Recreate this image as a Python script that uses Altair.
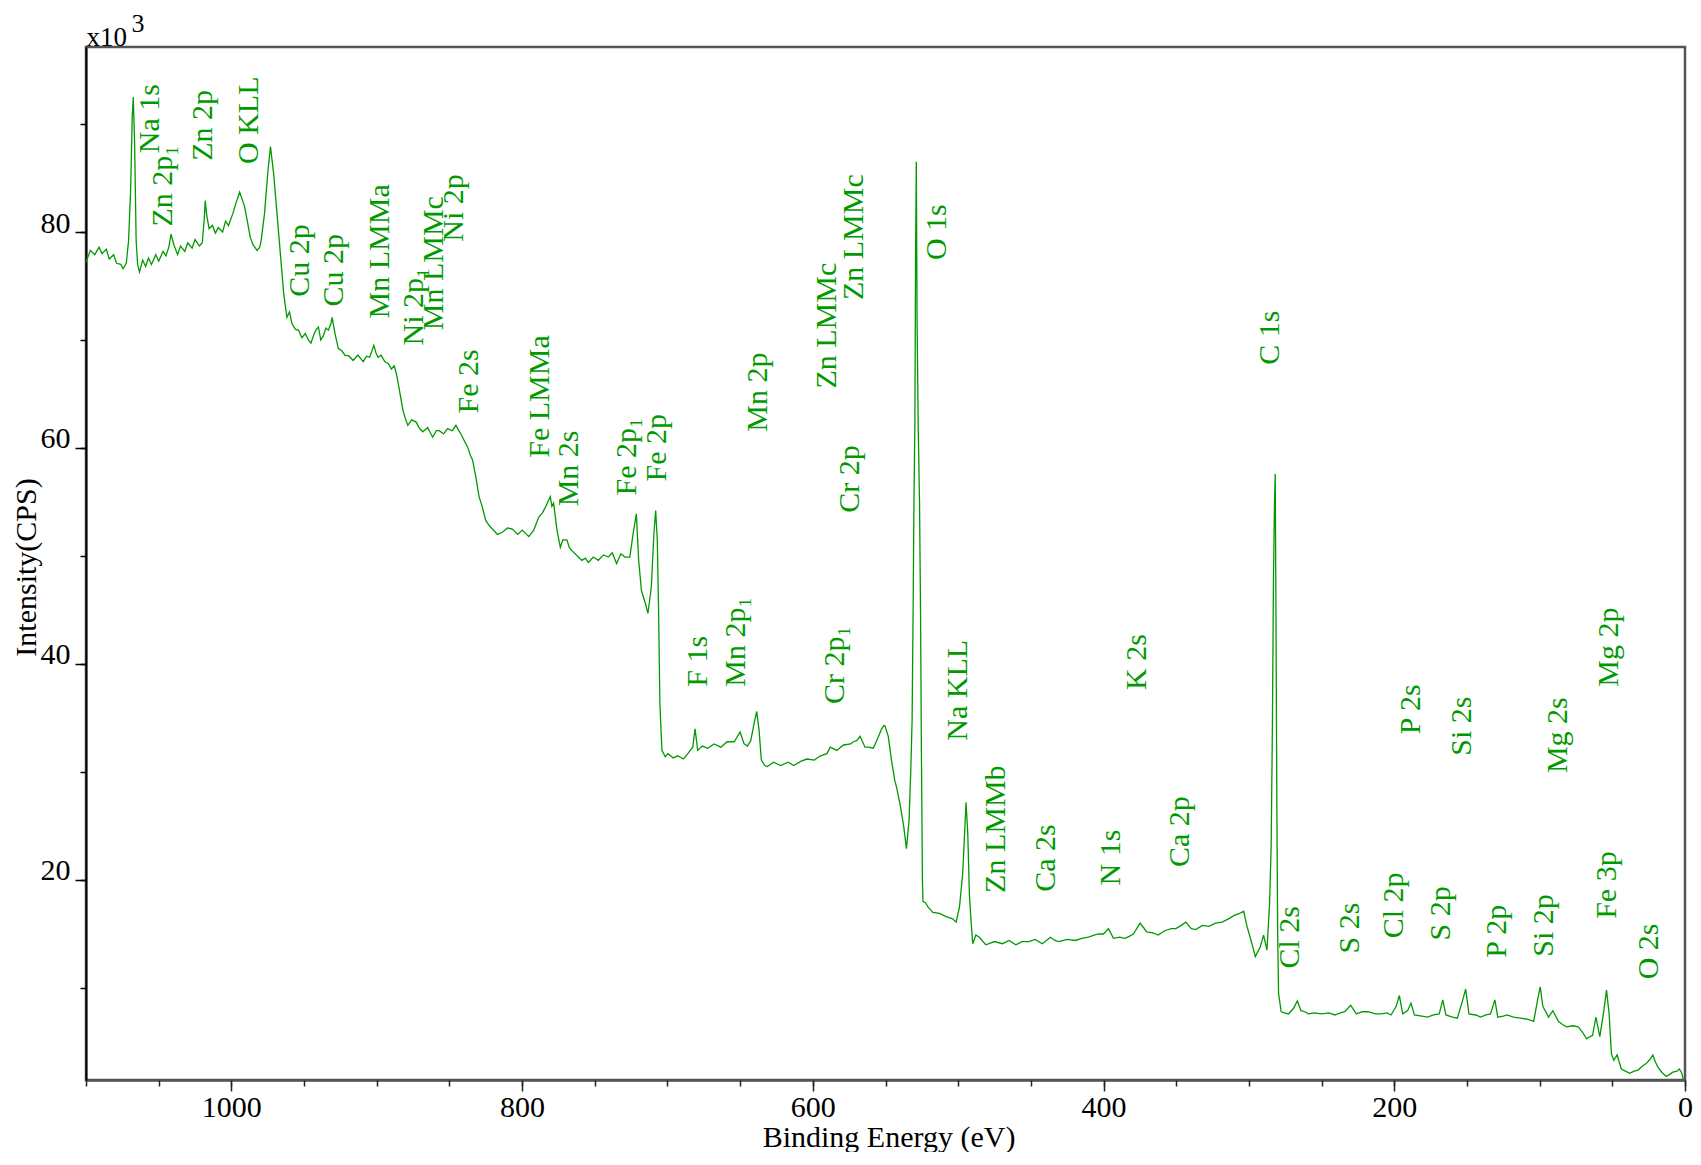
import altair as alt
import pandas as pd

GREEN = "#009a00"
FONT = "Liberation Serif"

# ---- spectrum (binding energy eV, intensity x10^3 CPS) ----
energy = [
    1100, 1097, 1094, 1091, 1089, 1086, 1084, 1081, 1079, 1076, 1074.5, 1072.3, 1070.7, 1069.3, 1068.2, 1067.5,
    1066.6, 1065.5, 1064.5, 1063.2, 1061, 1059, 1057, 1055, 1052, 1050, 1047, 1045, 1043, 1041.5, 1039.5, 1037,
    1035, 1032, 1030, 1027, 1025, 1022, 1020, 1018.5, 1018, 1017, 1015.3, 1013, 1011, 1009, 1006, 1004, 1002,
    999, 997, 994.3, 992.5, 991, 989, 987, 985, 982.3, 980.5, 979.5, 977.2, 975, 973.1, 970.9, 968.6, 966.3,
    964, 961.8, 960, 958.3, 956, 953.8, 951.5, 949.2, 947, 945.3, 943, 941.5, 940.1, 938.5, 936.7, 935, 933.3,
    931.5, 930.7, 928.7, 926.4, 924, 921.9, 919, 916.2, 913, 909.3, 907, 904.8, 902, 900.5, 899.1, 897, 894.5,
    892, 889.9, 888, 886.5, 884.3, 882, 880, 878.6, 876, 872.9, 870.5, 868.3, 865, 861.5, 859, 857, 854, 851.2,
    848, 845.5, 843.5, 842.1, 839.5, 837.5, 835.5, 834.1, 831.8, 829.6, 827.3, 825, 822.5, 820.4, 817, 813.6,
    810, 806.7, 803, 799.9, 797, 795.4, 792, 788.5, 786, 784, 782, 780.6, 779.5, 778.3, 776, 773.7, 772, 769.2,
    767.5, 765.7, 762, 758.9, 756.5, 754.4, 751, 747.6, 744, 740.7, 738, 735, 732, 729.3, 725.9, 723.6, 721.4,
    719.8, 717.9, 715.2, 713.4, 711.1, 709.3, 708.1, 707, 706.1, 705.2, 703.8, 701.5, 699.7, 696, 692.9, 689,
    686, 682.6, 681, 679.2, 676, 672.3, 668, 663.2, 659, 654.1, 650, 647.3, 645, 642.7, 640.4, 638.6, 637,
    635.4, 633, 631.3, 627, 622.2, 617, 613.1, 608, 604, 599, 594.8, 590.3, 588, 583.5, 578.9, 574, 572.1,
    569.8, 567.5, 564.1, 561.8, 558.4, 556.1, 553.8, 552.7, 551.1, 550.4, 548.1, 545.9, 543.6, 542.4, 539.7,
    537.4, 535.6, 533.8, 532.6, 531.7, 531.0, 530.4, 529.8, 529.3, 528.8, 528.3, 527.5, 526.6, 525.9, 525.3,
    524.6, 524.2, 522.5, 520.8, 517.4, 512.8, 508.3, 503.7, 501.4, 499.1, 496.9, 495.7, 494.6, 493.4, 492.3,
    491.2, 490, 487.8, 485.5, 481, 475, 469.5, 465, 460.4, 456, 451.3, 447, 442.2, 436.5, 433.5, 430.8, 425,
    419.4, 415, 410.3, 406.5, 403.4, 400, 396.6, 393.2, 389, 385.2, 382, 379.5, 374.9, 372.5, 370.4, 366,
    362.4, 358, 353.3, 350.3, 346.5, 343.5, 339.6, 336.6, 332, 327.5, 323, 318.4, 314, 310.4, 306.5, 303.6,
    301.3, 297.9, 295.6, 292.2, 289.9, 287.6, 285.8, 284.7, 283.8, 283.1, 282.4, 281.9, 281.4, 280.8, 280.2,
    279.6, 277.8, 275.5, 272.8, 269.4, 266.7, 264.2, 261.5, 259.1, 255, 250, 245, 240.9, 237, 234.1, 230,
    226.1, 222, 218.1, 213, 209, 205, 202.2, 198.7, 196.5, 194.2, 190.8, 188.5, 186.2, 181, 177.1, 173, 169.1,
    166.6, 164.5, 160, 156.6, 152.9, 150.9, 148.6, 144, 140.6, 137, 133.8, 130.8, 128.8, 125, 122.4, 118,
    113.2, 108, 104.1, 101.4, 99.6, 97.8, 93.9, 90.9, 87, 84, 81.4, 77, 73.4, 70.5, 67.7, 65.5, 63.6, 61.3,
    58.6, 55.8, 54, 52.2, 50.6, 49, 46.7, 43.8, 41, 38.1, 35, 32.3, 29, 26.7, 24, 22.1, 20.5, 18.7, 16, 13,
    10.5, 8.4, 5.5, 3.9, 2.5, 1.6, 0.6, 0,
]
intensity = [
    77.2, 78.3, 77.9, 78.6, 78.0, 78.4, 77.5, 77.9, 77.1, 77.0, 76.6, 77.1, 79.2, 83.9, 90.6, 92.5,
    88.5, 79.2, 77.0, 76.3, 77.4, 76.8, 77.6, 77.0, 77.9, 77.3, 78.2, 77.8, 78.6, 79.8, 78.8, 77.9,
    78.7, 78.2, 79.0, 78.5, 79.3, 78.7, 79.0, 81.5, 82.9, 81.6, 80.3, 80.6, 79.9, 80.4, 80.0, 81.0, 80.6,
    81.7, 82.6, 83.7, 83.0, 82.4, 81.0, 79.5, 78.8, 78.3, 78.6, 79.2, 81.7, 85.4, 87.9, 85.4, 81.7, 78.0,
    74.3, 72.1, 72.6, 71.5, 71.0, 70.9, 70.2, 70.6, 70.0, 69.7, 70.6, 71.0, 71.2, 70.0, 70.4, 71.1, 70.9,
    71.5, 72.1, 70.6, 69.2, 69.0, 68.6, 68.5, 68.1, 68.6, 68.0, 68.5, 68.4, 69.5, 68.8, 68.4, 68.6, 68.0,
    67.8, 67.3, 67.6, 66.9, 65.3, 63.5, 62.6, 62.1, 62.6, 62.4, 61.8, 61.5, 61.9, 61.0, 61.6, 61.6, 61.3, 61.8,
    61.6, 62.1, 61.6, 61.3, 60.6, 60.1, 59.3, 58.9, 57.3, 55.5, 54.5, 53.3, 52.8, 52.5, 52.0, 52.2,
    52.6, 52.5, 52.0, 52.4, 52.0, 51.8, 52.4, 53.6, 54.0, 54.5, 55.1, 55.5, 54.6, 54.9, 52.4, 50.8, 51.5, 51.5,
    50.8, 50.5, 50.0, 49.6, 49.8, 49.4, 49.9, 49.6, 50.1, 49.9, 50.3, 49.3, 50.2, 49.9, 49.9, 52.1, 53.9,
    49.6, 46.8, 45.6, 44.7, 47.1, 52.1, 54.2, 51.5, 45.0, 36.3, 32.0, 31.4, 31.7, 31.3, 31.5, 31.2,
    31.7, 32.3, 34.0, 32.0, 32.4, 32.2, 32.6, 32.3, 32.8, 32.8, 33.7, 32.6, 32.4, 32.9, 34.5, 35.6, 33.9,
    31.1, 30.6, 30.5, 30.9, 30.6, 30.9, 30.6, 31.0, 31.2, 31.1, 31.5, 31.7, 32.3, 32.0, 32.5, 32.6, 32.8,
    32.9, 33.3, 32.3, 32.3, 32.2, 32.9, 33.6, 34.0, 34.3, 34.3, 33.3, 31.1, 29.2, 28.6, 26.8,
    24.9, 22.9, 25.5, 30.2, 34.8, 45.0, 55.5, 62.0, 78.0, 86.5, 72.0, 62.0, 55.0, 45.0, 32.0,
    20.0, 18.0, 17.9, 17.5, 17.0, 16.9, 16.6, 16.4, 16.1, 17.5, 20.6, 24.0, 27.2, 24.3, 18.7,
    16.3, 14.1, 14.9, 14.7, 14.0, 14.3, 14.1, 14.4, 14.0, 14.3, 14.3, 14.5, 14.1, 14.7, 14.4, 14.3, 14.5,
    14.4, 14.6, 14.7, 14.9, 15.0, 15.0, 15.5, 14.6, 14.7, 14.6, 14.8, 15.0, 16.0, 15.6, 15.2, 15.1,
    14.9, 15.3, 15.5, 15.5, 15.8, 16.1, 15.5, 15.4, 15.8, 15.7, 16.0, 16.1, 16.4, 16.7, 16.9, 17.1,
    15.7, 14.1, 12.9, 13.8, 14.9, 13.5, 17.8, 23.1, 34.8, 48.0, 55.0, 57.6, 45.0, 27.4, 15.0,
    9.5, 7.8, 7.7, 7.6, 8.1, 8.8, 7.9, 7.8, 7.6, 7.7, 7.6, 7.7, 7.5, 7.7, 7.8, 8.4,
    7.6, 7.8, 7.8, 7.6, 7.6, 7.7, 7.5, 8.3, 9.3, 7.6, 7.9, 8.6, 7.5, 7.4, 7.3, 7.5, 7.6,
    8.9, 7.5, 7.3, 7.2, 8.9, 9.9, 7.6, 7.5, 7.3, 7.5, 7.6, 8.9, 7.3, 7.4, 7.5, 7.3,
    7.2, 7.1, 6.9, 8.9, 10.1, 8.3, 7.3, 7.9, 6.9, 6.6, 6.4, 6.5, 6.4, 5.9, 5.3, 5.5, 5.6, 7.3,
    5.5, 7.9, 9.8, 7.6, 3.9, 3.3, 3.8, 2.5, 2.3, 2.1, 2.3, 2.4, 2.8, 3.0, 3.4, 3.8, 3.2, 2.7, 2.2, 1.8,
    2.0, 2.2, 2.3, 2.5, 2.2, 1.8, 1.0, 0.8,
]

# ---- peak labels ----
label_text = [
    "Na 1s", "Zn 2p\u2081", "Zn 2p", "O KLL", "Cu 2p", "Cu 2p", "Mn LMMa", "Ni 2p\u2081", "Mn LMMc", "Ni 2p",
    "Fe 2s", "Fe LMMa", "Mn 2s", "Mn 2p", "Zn LMMc", "Zn LMMc", "O 1s", "Fe 2p\u2081", "Fe 2p", "Cr 2p",
    "F 1s", "Mn 2p\u2081", "Cr 2p\u2081", "Na KLL", "Zn LMMb", "Ca 2s", "N 1s", "Ca 2p", "K 2s", "C 1s",
    "P 2s", "Si 2s", "Mg 2s", "Mg 2p", "Cl 2s", "S 2s", "Cl 2p", "S 2p", "P 2p", "Si 2p", "Fe 3p", "O 2s",
]
label_energy = [
    1055.8, 1046.7, 1019.5, 987.6, 952.7, 929.4, 897.5, 874.7, 860.4, 846.7,
    836.5, 787.4, 767.6, 637.7, 590.5, 571.6, 514.6, 727.7, 707.2, 574.4,
    679.0, 653.0, 584.6, 499.8, 474.3, 439.4, 394.9, 347.1, 376.8, 285.3,
    188.7, 153.2, 87.2, 52.2, 271.9, 230.6, 200.5, 167.9, 129.2, 96.8, 54.0, 25.0,
]
label_intensity = [
    87.3, 80.5, 86.6, 86.3, 74.0, 73.1, 72.0, 69.5, 70.9, 79.1,
    63.2, 59.1, 54.6, 61.5, 65.5, 73.7, 77.4, 55.6, 56.9, 54.0,
    37.9, 37.9, 36.3, 32.9, 18.8, 18.9, 19.5, 21.2, 37.6, 67.7,
    33.5, 31.5, 29.9, 37.9, 11.8, 13.2, 14.6, 14.4, 12.8, 12.9, 16.4, 10.8,
]

x_major = [0, 200, 400, 600, 800, 1000]
x_minor = list(range(0, 1101, 50))
y_major = [20, 40, 60, 80]
y_minor = [10, 20, 30, 40, 50, 60, 70, 80, 90]

W, H = 1599, 1033

spec = pd.DataFrame({"E": energy, "I": intensity})
labs = pd.DataFrame({"E": label_energy, "I": label_intensity, "label": label_text})

xscale = alt.Scale(domain=[0, 1100], reverse=True, nice=False, zero=False)
yscale = alt.Scale(domain=[1.48, 97.13], nice=False, zero=False)

x_axis_major = alt.Axis(
    orient="bottom", values=x_major, format="d", tickSize=11, tickWidth=1.5, tickColor="#222222",
    domainColor="#555555", domainWidth=2.5, grid=False,
    labelFont=FONT, labelFontSize=30, labelColor="#000000", labelPadding=1, labelFlush=False,
    labelOverlap=False,
    title="Binding Energy (eV)", titleFont=FONT, titleFontSize=30, titleFontWeight="normal",
    titleColor="#000000", titleX=W / 2 + 3, titleY=66, titleAlign="center", titleBaseline="alphabetic",
)
y_axis_major = alt.Axis(
    orient="left", values=y_major, format="d", tickSize=11, tickWidth=1.5, tickColor="#000000",
    domainColor="#000000", domainWidth=2, grid=False,
    labelFont=FONT, labelFontSize=30, labelColor="#000000", labelPadding=5,
    labelBaseline="alphabetic", labelAlign="right", labelOverlap=False,
    title="Intensity(CPS)", titleFont=FONT, titleFontSize=30, titleFontWeight="normal",
    titleColor="#000000", titleAngle=270, titleX=-51, titleY=520, titleAlign="center",
    titleBaseline="alphabetic",
)
x_axis_minor = alt.Axis(
    orient="bottom", values=x_minor, tickSize=6, tickWidth=1.5, tickColor="#222222",
    domain=False, labels=False, grid=False,
    title="3", titleFont=FONT, titleFontSize=26, titleFontWeight="normal", titleColor="#000000",
    titleX=45, titleY=31 - 47 - H, titleAlign="left", titleBaseline="alphabetic",
)
y_axis_minor = alt.Axis(
    orient="left", values=y_minor, tickSize=6, tickWidth=1.5, tickColor="#000000",
    domain=False, labels=False, grid=False,
    title="x10", titleFont=FONT, titleFontSize=27, titleFontWeight="normal", titleColor="#000000",
    titleAngle=0, titleX=0, titleY=-2, titleAlign="left", titleBaseline="alphabetic",
)

line = alt.Chart(spec).mark_line(color=GREEN, strokeWidth=1.3, clip=True).encode(
    x=alt.X("E:Q", scale=xscale, axis=x_axis_major),
    y=alt.Y("I:Q", scale=yscale, axis=y_axis_major),
)

text = alt.Chart(labs).mark_text(
    angle=270, align="left", baseline="middle", font=FONT, fontSize=30, color=GREEN
).encode(
    x=alt.X("E:Q", scale=xscale, axis=x_axis_minor),
    y=alt.Y("I:Q", scale=yscale, axis=y_axis_minor),
    text="label:N",
)

chart = (
    alt.layer(line, text)
    .resolve_axis(x="independent", y="independent")
    .properties(
        width=W, height=H,
        autosize=alt.AutoSizeParams(type="none"),
        padding={"left": 78, "top": 39, "right": 8, "bottom": 72},
        background="white",
    )
    .configure_view(stroke="#555555", strokeWidth=2.5)
)

chart.save("out.html", embed_options={"renderer": "svg", "actions": False})
